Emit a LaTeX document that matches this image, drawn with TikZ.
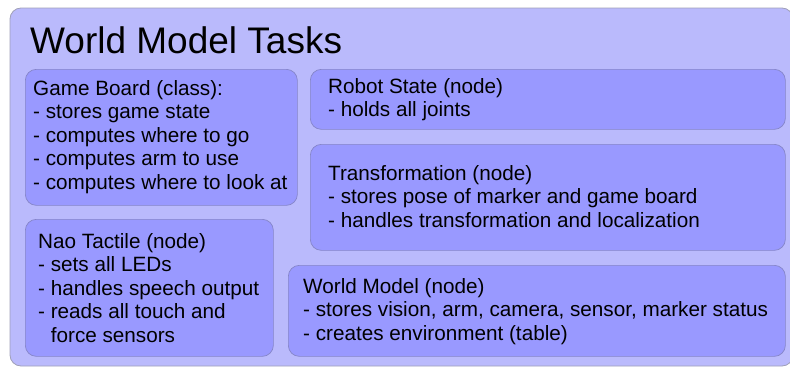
\documentclass[tikz,border=0pt]{standalone}
\usepackage{fontspec}
\setmainfont{Liberation Sans}
\definecolor{panelfill}{HTML}{BABAFC}
\definecolor{panelline}{HTML}{A0A0B8}
\definecolor{taskfill}{HTML}{9999FF}
\definecolor{taskline}{HTML}{8585C8}
% stacked lines with the node's baseline on the first line
\newcommand\linestack[1]{\vtop{\halign{##\hfil\cr#1\crcr}}}
\tikzset{
  panel/.style={draw=panelline, fill=panelfill, line width=0.8pt, rounded corners=11pt},
  taskbox/.style={draw=taskline, fill=taskfill, line width=0.7pt, rounded corners=11pt,
    inner sep=0pt, anchor=north west},
  tasktext/.style={anchor=base west, inner sep=0pt, text=black,
    font=\fontsize{20.7}{23.5}\selectfont},
}
\begin{document}
\begin{tikzpicture}[x=1pt, y=-1pt]
  \useasboundingbox (0,0) rectangle (790,367);
  \path[panel] (10,8) rectangle (793,366);
  \node[anchor=base west, inner sep=0pt, font=\fontsize{37}{42}\selectfont] (title) at (30,53) {World Model Tasks};

  % task boxes
  \node[taskbox, minimum width=272pt, minimum height=136pt] (gb) at (25,69) {};
  \node[taskbox, minimum width=475pt, minimum height=60pt] (rs) at (310,69) {};
  \node[taskbox, minimum width=475pt, minimum height=106pt] (tf) at (310,144) {};
  \node[taskbox, minimum width=248pt, minimum height=137pt] (nt) at (25,219) {};
  \node[taskbox, minimum width=497pt, minimum height=91pt] (wm) at (288,265) {};

  % their descriptions
  \node[tasktext] (gbt) at (33,95) {\linestack{Game Board (class):\cr
    - stores game state\cr
    - computes where to go\cr
    - computes arm to use\cr
    - computes where to look at}};
  \node[tasktext] (rst) at (328,93) {\linestack{Robot State (node)\cr
    - holds all joints}};
  \node[tasktext] (tft) at (328,180) {\linestack{Transformation (node)\cr
    - stores pose of marker and game board\cr
    - handles transformation and localization}};
  \node[tasktext] (ntt) at (38,248) {\linestack{Nao Tactile (node)\cr
    - sets all LEDs\cr
    - handles speech output\cr
    - reads all touch and\cr
    \hphantom{-\ }force sensors}};
  \node[tasktext] (wmt) at (303,293) {\linestack{World Model (node)\cr
    - stores vision, arm, camera, sensor, marker status\cr
    - creates environment (table)}};
\end{tikzpicture}
\end{document}
